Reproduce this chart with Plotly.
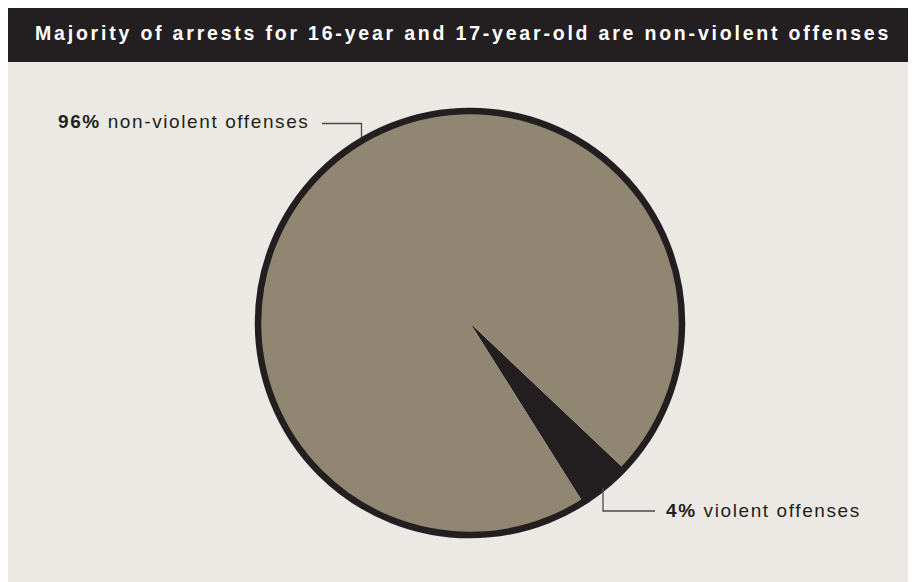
import plotly.graph_objects as go

# ---- data ----
categories = ["violent offenses", "non-violent offenses"]
percents = [4, 96]
slice_colors = ["#231f20", "#918672"]
title_text = "Majority of arrests for 16-year and 17-year-old are non-violent offenses"

W, H = 916, 582
OFF = 8  # page body margin
BG = "#ece9e4"
DARK = "#231f20"
FONT = "Liberation Sans, Arial, sans-serif"

def px(x):
    return (x - OFF) / W

def py(y):
    return 1 - (y - OFF) / H

# pie geometry (reference-screen pixels)
cx, cy, r = 470, 323, 212
dom = dict(x=[px(cx - r), px(cx + r)], y=[py(cy + r), py(cy - r)])

fig = go.Figure()
fig.add_trace(go.Pie(
    labels=categories, values=percents, sort=False,
    direction="clockwise", rotation=133.4,
    marker=dict(colors=slice_colors, line=dict(width=0)),
    textinfo="none", hoverinfo="label+percent",
    domain=dom, showlegend=False,
))
# outer ring
fig.add_trace(go.Pie(
    values=[1], sort=False,
    marker=dict(colors=["rgba(0,0,0,0)"], line=dict(width=6.5, color=DARK)),
    textinfo="none", hoverinfo="skip",
    domain=dom, showlegend=False,
))

shapes = [
    dict(type="rect", xref="paper", yref="paper", x0=0, x1=1, y0=py(62), y1=1.01,
         fillcolor=DARK, line=dict(width=0), layer="below"),
    dict(type="path", xref="paper", yref="paper",
         path=f"M {px(322)} {py(123.5)} L {px(361.5)} {py(123.5)} L {px(361.5)} {py(137)}",
         line=dict(color="#4a4a4a", width=1.3)),
    dict(type="path", xref="paper", yref="paper",
         path=f"M {px(603)} {py(488)} L {px(603)} {py(511)} L {px(655)} {py(511)}",
         line=dict(color="#4a4a4a", width=1.3)),
]

def spaced(s, ls):
    return f'<span style="letter-spacing:{ls}px">{s}</span>'

annotations = [
    dict(xref="paper", yref="paper", x=px(463), y=py(33.5), xanchor="center", yanchor="middle",
         text=spaced(f"<b>{title_text}</b>", 2.8), showarrow=False,
         font=dict(family=FONT, size=19.5, color="#ffffff")),
    dict(xref="paper", yref="paper", x=px(311), y=py(122), xanchor="right", yanchor="middle",
         text=spaced(f"<b>{percents[1]}%</b> {categories[1]}", 1.6), showarrow=False,
         font=dict(family=FONT, size=19, color="#231f20")),
    dict(xref="paper", yref="paper", x=px(664), y=py(510), xanchor="left", yanchor="middle",
         text=spaced(f"<b>{percents[0]}%</b> {categories[0]}", 1.6), showarrow=False,
         font=dict(family=FONT, size=19, color="#231f20")),
]

fig.update_layout(
    width=W, height=H,
    margin=dict(l=0, r=0, t=0, b=0),
    paper_bgcolor=BG, plot_bgcolor=BG,
    shapes=shapes, annotations=annotations,
)

fig.write_html("out.html")
